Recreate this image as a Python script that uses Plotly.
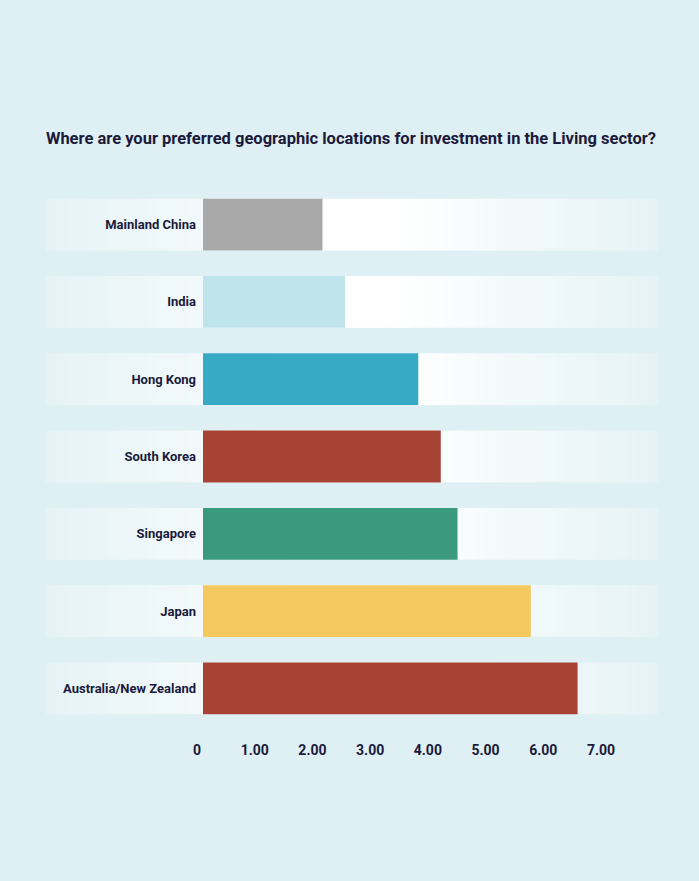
import plotly.graph_objects as go

# ---- data (top to bottom) ----
categories = ["Mainland China", "India", "Hong Kong", "South Korea",
              "Singapore", "Japan", "Australia/New Zealand"]
values = [2.07, 2.46, 3.73, 4.12, 4.41, 5.68, 6.49]
bar_colors = ["#a9a9a9", "#c0e4eb", "#37abc6", "#a84235",
              "#3a9a7b", "#f4c85f", "#a84235"]
tick_vals = [0, 1, 2, 3, 4, 5, 6, 7]
tick_text = ["0", "1.00", "2.00", "3.00", "4.00", "5.00", "6.00", "7.00"]
title_text = "Where are your preferred geographic locations for investment in the Living sector?"

BG = (223, 240, 244)
FONT = "Roboto, Liberation Sans, sans-serif"
INK = "#1b1a3b"

W, H = 699, 881
L, R = 203, 92
T, B = 186, 154
plot_w = W - L - R
bargap = 0.33
half = (1 - bargap) / 2

fig = go.Figure(go.Bar(
    y=categories, x=values, orientation="h",
    marker=dict(color=bar_colors, line=dict(width=0)),
    hoverinfo="x+y",
))

# gradient row bands (decoration), paper x, category y
def whiteness(px):
    pts = [(46, 0.2), (200, 0.6), (290, 1.0), (400, 1.0), (520, 0.6), (658, 0.2)]
    for (x0, w0), (x1, w1) in zip(pts, pts[1:]):
        if px <= x1:
            t = (px - x0) / (x1 - x0)
            return w0 + t * (w1 - w0)
    return pts[-1][1]

def col(w):
    r, g, b = [round(c + (255 - c) * w) for c in BG]
    return f"rgb({r},{g},{b})"

band_left, band_right = 46, 658
n = 60
step = (band_right - band_left) / n
shapes = []
for i in range(len(categories)):
    for k in range(n):
        px0 = band_left + k * step
        px1 = px0 + step + (0.8 if k < n - 1 else 0)
        w = whiteness(px0 + step / 2)
        shapes.append(dict(
            type="rect", layer="below", xref="paper", yref="y",
            x0=(px0 - L) / plot_w, x1=(px1 - L) / plot_w,
            y0=i - half, y1=i + half,
            fillcolor=col(w), line=dict(width=0),
        ))

fig.update_layout(
    width=W, height=H,
    margin=dict(l=L, r=R, t=T, b=B, pad=0),
    paper_bgcolor="rgb(%d,%d,%d)" % BG,
    plot_bgcolor="rgba(0,0,0,0)",
    bargap=bargap,
    showlegend=False,
    shapes=shapes,
    title=dict(text=title_text, xref="paper", xanchor="center",
               y=1 - 138 / H, yref="container", yanchor="middle",
               font=dict(family=FONT, size=16.5, color=INK, weight="bold")),
    font=dict(family=FONT, color=INK),
    xaxis=dict(range=[0, 7], tickvals=tick_vals, ticktext=tick_text,
               showgrid=False, zeroline=False, showline=False,
               ticks="outside", ticklen=10, tickcolor="rgba(0,0,0,0)",
               ticklabelshift=-6,
               tickfont=dict(family=FONT, size=14, color=INK, weight="bold"),
               fixedrange=True),
    yaxis=dict(autorange="reversed", showgrid=False, zeroline=False,
               showline=False, ticks="", ticklabelstandoff=6,
               tickfont=dict(family=FONT, size=13, color=INK, weight="bold"),
               fixedrange=True),
)
fig.update_layout(title_x=(351 - L) / plot_w)

fig.write_html("out.html", config={"displayModeBar": False},
               post_script="document.body.style.margin='0';document.body.style.padding='0';")
